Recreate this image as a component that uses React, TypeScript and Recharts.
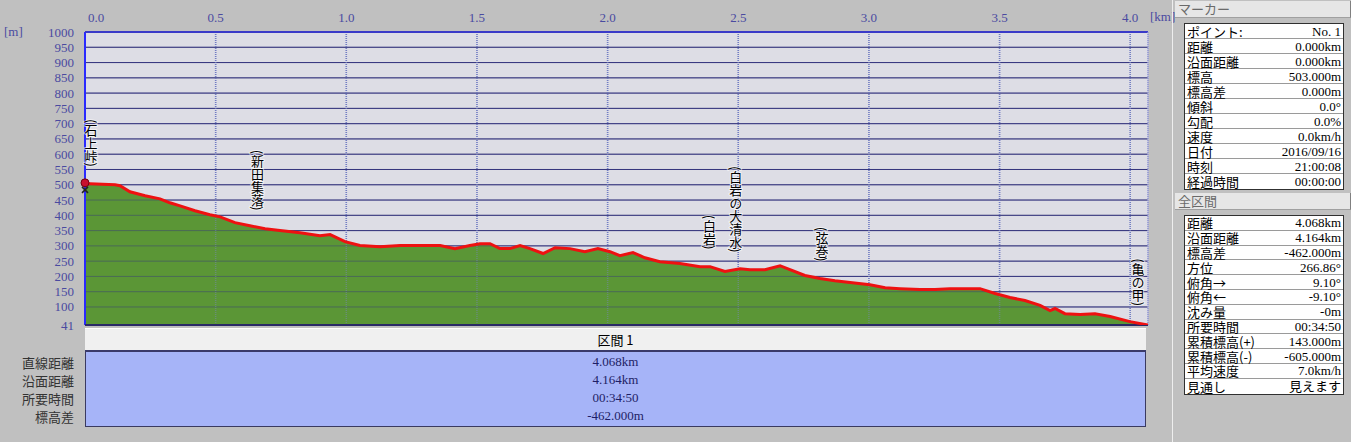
import React from 'react';
import { ComposedChart, Area, Line, XAxis, YAxis, CartesianGrid, ReferenceLine, ReferenceDot } from 'recharts';

const distKm = [0, 0.019, 0.115, 0.134, 0.172, 0.23, 0.287, 0.325, 0.364, 0.421, 0.478, 0.517, 0.574, 0.631, 0.689, 0.746, 0.823, 0.899, 0.938, 0.995, 1.052, 1.129, 1.206, 1.282, 1.359, 1.416, 1.473, 1.512, 1.55, 1.588, 1.626, 1.665, 1.703, 1.753, 1.799, 1.856, 1.913, 1.963, 2.009, 2.047, 2.097, 2.143, 2.2, 2.277, 2.354, 2.392, 2.449, 2.507, 2.545, 2.602, 2.66, 2.698, 2.755, 2.813, 2.87, 2.928, 3.004, 3.062, 3.119, 3.196, 3.253, 3.31, 3.387, 3.425, 3.483, 3.54, 3.597, 3.655, 3.693, 3.712, 3.75, 3.808, 3.865, 3.923, 3.999, 4.068];
const elevM = [503, 503, 500, 497, 477, 464, 454, 441, 431, 415, 402, 395, 376, 366, 356, 350, 343, 333, 337, 314, 301, 297, 301, 301, 301, 291, 301, 307, 307, 291, 291, 301, 291, 275, 294, 291, 281, 291, 281, 268, 278, 261, 248, 242, 232, 232, 216, 225, 222, 222, 235, 222, 203, 193, 186, 180, 173, 163, 160, 157, 157, 160, 160, 160, 144, 131, 121, 105, 88, 95, 78, 75, 78, 69, 52, 41];

const xTicks = [0, 0.5, 1, 1.5, 2, 2.5, 3, 3.5, 4];
const yTicks = [41, 100, 150, 200, 250, 300, 350, 400, 450, 500, 550, 600, 650, 700, 750, 800, 850, 900, 950, 1000];

const waypointNames = ['石上峠', '新田集落', '白岩', '白岩の大清水', '弦巻', '亀の甲'];
const waypointKm = [0.023, 0.66, 2.39, 2.49, 2.82, 4.03];
const waypointElev = [503, 360, 232, 222, 193, 47];

const markerLabels = ['ポイント:', '距離', '沿面距離', '標高', '標高差', '傾斜', '勾配', '速度', '日付', '時刻', '経過時間'];
const markerValues = ['No. 1', '0.000km', '0.000km', '503.000m', '0.000m', '0.0°', '0.0%', '0.0km/h', '2016/09/16', '21:00:08', '00:00:00'];
const totalLabels = ['距離', '沿面距離', '標高差', '方位', '俯角→', '俯角←', '沈み量', '所要時間', '累積標高(+)', '累積標高(-)', '平均速度', '見通し'];
const totalValues = ['4.068km', '4.164km', '-462.000m', '266.86°', '9.10°', '-9.10°', '-0m', '00:34:50', '143.000m', '-605.000m', '7.0km/h', '見えます'];
const sectionTitle = '区間 1';
const sectionLabels = ['直線距離', '沿面距離', '所要時間', '標高差'];
const sectionValues = ['4.068km', '4.164km', '00:34:50', '-462.000m'];

const data = distKm.map((d, i) => ({ d, e: elevM[i] }));

const FONT = '"Liberation Serif", "Noto Sans CJK JP", serif';
const JFONT = '"Noto Sans CJK JP", sans-serif';
const TICK = '#4a4aa0';
const NAVY = '#36367e';

const XTick = (p: any) => {
  const v = p.payload.value;
  return (
    <text x={p.x + (v === 0 ? 11 : 0)} y={p.y} textAnchor="middle" fontSize={13} fontFamily={FONT} fill={TICK}>
      {v.toFixed(1)}
    </text>
  );
};
const YTick = (p: any) => (
  <text x={p.x} y={p.y + 4.5} textAnchor="end" fontSize={13} fontFamily={FONT} fill={TICK}>
    {p.payload.value}
  </text>
);

const vLabel = (name: string) => (p: any) => (
  <text
    x={p.cx}
    y={p.cy - 17}
    textAnchor="end"
    fontSize={13}
    fontFamily={JFONT}
    fill="#000"
    stroke="#ffffff"
    strokeOpacity={0.6}
    strokeWidth={2}
    paintOrder="stroke"
    style={{ writingMode: 'vertical-rl' } as any}
  >
    {'(' + name + ')'}
  </text>
);

const startMarker = (p: any) => (
  <g>
    <circle cx={p.cx} cy={p.cy - 1} r={4} fill="#c8102e" stroke="#700010" strokeWidth={1} />
    <path d={`M${p.cx - 3},${p.cy + 3} L${p.cx + 3},${p.cy + 9} M${p.cx + 3},${p.cy + 3} L${p.cx - 3},${p.cy + 9}`} stroke="#222" strokeWidth={1.5} />
  </g>
);

const Table = ({ labels, values, top, rowH }: { labels: string[]; values: string[]; top: number; rowH: number }) => (
  <div style={{ position: 'absolute', left: 11, top, width: 160, background: '#ffffff', border: '1px solid #303030', boxSizing: 'border-box' }}>
    {labels.map((l, i) => (
      <div key={i} style={{ height: rowH, boxSizing: 'border-box', borderBottom: i < labels.length - 1 ? '1px solid #9a9a9a' : 'none', display: 'flex', justifyContent: 'space-between', alignItems: 'center', padding: '0 2px', fontSize: 13, lineHeight: '13px', color: '#000' }}>
        <span style={{ fontFamily: JFONT }}>{l}</span>
        <span style={{ fontFamily: FONT }}>{values[i]}</span>
      </div>
    ))}
  </div>
);

export default function App() {
  return (
    <div style={{ position: 'fixed', left: 0, top: 0, width: 1351, height: 442, background: '#c0c0c0', overflow: 'hidden', fontFamily: FONT }}>
      <div style={{ position: 'absolute', left: 0, top: 0 }}>
        <ComposedChart width={1351} height={442} data={data} margin={{ top: 0, right: 203, bottom: 117, left: 0 }}>
          <CartesianGrid horizontal={true} vertical={false} fill="#dddde5" stroke={NAVY} strokeWidth={1} fillOpacity={1} />
          <CartesianGrid horizontal={false} vertical={true} stroke="#6a76c0" strokeDasharray="1 1" strokeWidth={1.5} />
          <XAxis
            xAxisId={0}
            type="number"
            dataKey="d"
            domain={[0, 4.068]}
            ticks={xTicks}
            orientation="top"
            height={32}
            axisLine={false}
            tickLine={false}
            tickSize={0}
            tickMargin={10}
            tick={<XTick />}
            allowDataOverflow
          />
          <YAxis
            yAxisId={0}
            type="number"
            domain={[41, 1000]}
            ticks={yTicks}
            width={85}
            axisLine={false}
            tickLine={false}
            tickSize={0}
            tickMargin={11}
            tick={<YTick />}
            interval={0}
            allowDataOverflow
          />
          <Area type="linear" dataKey="e" stroke="none" fill="#5b9636" fillOpacity={1} baseValue={41} isAnimationActive={false} />
          {yTicks.slice(1, -1).map((v) => (
            <ReferenceLine key={'h' + v} y={v} stroke={NAVY} strokeOpacity={0.45} strokeWidth={1} />
          ))}
          {xTicks.slice(1).map((v) => (
            <ReferenceLine key={'v' + v} x={v} stroke="#7a86c8" strokeOpacity={0.45} strokeDasharray="1 1" strokeWidth={1.5} />
          ))}
          <ReferenceLine x={0} stroke="#2a2aff" strokeWidth={2} />
          <ReferenceLine y={1000} stroke="#3a3ac8" strokeWidth={2} />
          <ReferenceLine y={41} stroke="#2a2a66" strokeWidth={2} />
          <ReferenceLine x={4.068} stroke="#b8b8e0" strokeWidth={1} />
          <Line type="linear" dataKey="e" stroke="#ee1111" strokeWidth={3} dot={false} isAnimationActive={false} />
          {waypointNames.map((n, i) => (
            <ReferenceDot key={n} x={waypointKm[i]} y={waypointElev[i]} r={0} shape={vLabel(n)} />
          ))}
          <ReferenceDot x={distKm[0]} y={elevM[0]} r={4} shape={startMarker} />
        </ComposedChart>
      </div>

      <div style={{ position: 'absolute', left: 4, top: 24, fontSize: 13, color: TICK, fontFamily: FONT }}>[m]</div>
      <div style={{ position: 'absolute', left: 1150, top: 9, fontSize: 13, color: TICK, fontFamily: FONT }}>[km]</div>

      <div style={{ position: 'absolute', left: 85, top: 328, width: 1061, height: 24, background: '#f0f0f0', borderTop: '1px solid #ffffff', borderBottom: '2px solid #3a3a6a', boxSizing: 'border-box', textAlign: 'center', fontFamily: JFONT, fontSize: 13, lineHeight: '21px', color: '#000' }}>
        {sectionTitle}
      </div>
      <div style={{ position: 'absolute', left: 85, top: 352, width: 1061, height: 75, background: '#a6b4f8', border: '1px solid #3a3a60', borderTop: 'none', boxSizing: 'border-box', paddingTop: 1 }}>
        {sectionValues.map((v, i) => (
          <div key={i} style={{ height: 18, lineHeight: '18px', textAlign: 'center', fontSize: 13, color: '#1e1e66', fontFamily: FONT }}>{v}</div>
        ))}
      </div>
      <div style={{ position: 'absolute', left: 0, top: 353, width: 74, paddingTop: 1 }}>
        {sectionLabels.map((l, i) => (
          <div key={i} style={{ height: 18, lineHeight: '18px', textAlign: 'right', fontSize: 13, color: '#333333', fontFamily: JFONT }}>{l}</div>
        ))}
      </div>

      <div style={{ position: 'absolute', left: 1172, top: 0, width: 179, height: 442, borderLeft: '1px solid #eeeeee', boxSizing: 'border-box' }}>
        <div style={{ position: 'absolute', left: 2, top: 1, width: 176, height: 17, background: '#e6e6e6', borderRight: '1px solid #808080', borderBottom: '1px solid #a0a0a0', boxSizing: 'border-box', fontFamily: JFONT, fontSize: 13, lineHeight: '16px', color: '#6a6a6a', paddingLeft: 3 }}>マーカー</div>
        <Table labels={markerLabels} values={markerValues} top={23} rowH={15} />
        <div style={{ position: 'absolute', left: 2, top: 193, width: 176, height: 17, background: '#e6e6e6', borderRight: '1px solid #808080', borderBottom: '1px solid #a0a0a0', boxSizing: 'border-box', fontFamily: JFONT, fontSize: 13, lineHeight: '16px', color: '#6a6a6a', paddingLeft: 3 }}>全区間</div>
        <Table labels={totalLabels} values={totalValues} top={215} rowH={14.8} />
      </div>
    </div>
  );
}
